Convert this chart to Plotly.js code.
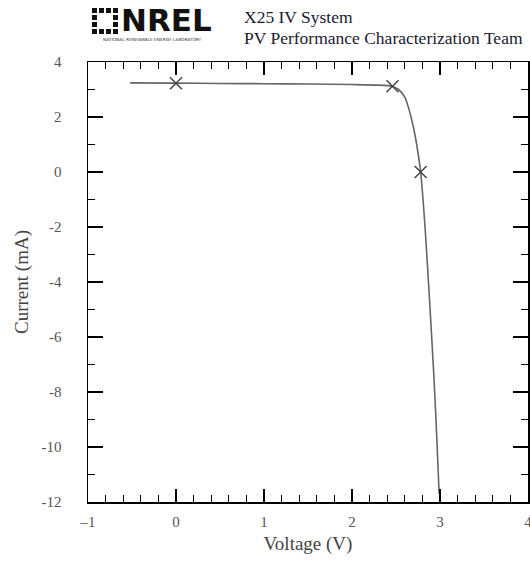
<!DOCTYPE html>
<html><head><meta charset="utf-8">
<script src="https://cdn.plot.ly/plotly-3.0.1.min.js"></script>
<style>html,body{margin:0;padding:0;background:#fff}#chart{width:530px;height:563px}</style>
</head><body><div id="chart"></div>
<script>
// I-V curve (voltage in V, current in mA)
const curveVoltage = [-0.52, 0.0, 0.5, 1.0, 1.5, 2.0, 2.3, 2.45, 2.53, 2.6, 2.65, 2.7, 2.74, 2.78, 2.83, 2.88, 2.93, 2.96, 2.99];
const curveCurrent = [3.24, 3.23, 3.22, 3.21, 3.2, 3.18, 3.16, 3.12, 3.0, 2.72, 2.25, 1.6, 0.9, 0.0, -2.0, -4.6, -7.4, -9.4, -11.7];
// Key points: Isc, max power point, Voc
const markerVoltage = [0.0, 2.46, 2.78];
const markerCurrent = [3.23, 3.12, 0.0];
const xTickVals = [-1, 0, 1, 2, 3, 4];
const xTickText = ['\u20131', '0', '1', '2', '3', '4'];
const yTickVals = [4, 2, 0, -2, -4, -6, -8, -10, -12];
const yTickText = ['4', '2', '0', '-2', '-4', '-6', '-8', '-10', '-12'];

const W = 530, H = 563, ML = 88, MR = 2, MT = 62, MB = 61;
const PW = W - ML - MR, PH = H - MT - MB;
function px(x){ return (x - ML) / PW; }
function py(y){ return (H - MB - y) / PH; }

const serif = 'Liberation Serif, Times New Roman, serif';
const sans = 'DejaVu Sans, Arial, sans-serif';
const traces = [
  {x: curveVoltage, y: curveCurrent, mode: 'lines', line: {color: '#666', width: 1.6, shape: 'spline', smoothing: 0.6}, hoverinfo: 'skip', showlegend: false},
  {x: markerVoltage, y: markerCurrent, mode: 'markers', marker: {symbol: 'x-thin-open', size: 12, color: '#444', line: {color: '#444', width: 1.5}}, showlegend: false}
];
const axisCommon = {
  showline: true, linecolor: '#000', linewidth: 1.5, mirror: 'ticks',
  ticks: 'inside', tickcolor: '#000', tickwidth: 1.5,
  showgrid: false, zeroline: false, ticklabeloverflow: 'allow',
  tickfont: {family: serif, size: 15, color: '#555'}
};
const layout = {
  width: W, height: H,
  margin: {l: ML, r: MR, t: MT, b: MB},
  paper_bgcolor: '#fff', plot_bgcolor: '#fff',
  xaxis: Object.assign({}, axisCommon, {
    range: [-1, 4], tickmode: 'array', tickvals: xTickVals, ticktext: xTickText, ticklen: 13,
    minor: {dtick: 0.2, ticks: 'inside', ticklen: 7, tickcolor: '#000', tickwidth: 1.3, showgrid: false},
    ticklabelstandoff: 5,
    title: {text: 'Voltage (V)', font: {family: serif, size: 19, color: '#444'}, standoff: 8}
  }),
  yaxis: Object.assign({}, axisCommon, {
    range: [-12, 4], tickmode: 'array', tickvals: yTickVals, ticktext: yTickText, ticklen: 15,
    minor: {dtick: 1, ticks: 'inside', ticklen: 7, tickcolor: '#000', tickwidth: 1.3, showgrid: false},
    ticklabelstandoff: 22,
    title: {text: 'Current (mA)', font: {family: serif, size: 19, color: '#444'}, standoff: 8}
  }),
  annotations: [
    {xref: 'paper', yref: 'paper', x: px(119), y: py(20), xanchor: 'left', yanchor: 'middle', text: '<b>NREL</b>', showarrow: false, font: {family: sans, size: 31, color: '#111'}},
    {xref: 'paper', yref: 'paper', x: px(152), y: py(39), xanchor: 'center', yanchor: 'middle', text: 'NATIONAL RENEWABLE ENERGY LABORATORY', showarrow: false, font: {family: sans, size: 4.3, color: '#333'}},
    {xref: 'paper', yref: 'paper', x: px(242), y: py(17), xanchor: 'left', yanchor: 'middle', text: 'X25 IV System', showarrow: false, font: {family: serif, size: 17.5, color: '#1a1a30'}},
    {xref: 'paper', yref: 'paper', x: px(242), y: py(38), xanchor: 'left', yanchor: 'middle', text: 'PV Performance Characterization Team', showarrow: false, font: {family: serif, size: 17.5, color: '#1a1a30'}}
  ],
  shapes: []
};
// NREL logo icon: ring of small squares (decorative)
for (let i = 0; i < 4; i++) {
  for (let j = 0; j < 4; j++) {
    if (i > 0 && i < 3 && j > 0 && j < 3) continue;
    const x0 = 92 + i * 7, y0 = 8 + j * 7;
    layout.shapes.push({type: 'rect', xref: 'paper', yref: 'paper',
      x0: px(x0), x1: px(x0 + 5), y0: py(y0 + 5), y1: py(y0),
      fillcolor: '#111', line: {width: 0}});
  }
}
Plotly.newPlot('chart', traces, layout, {displayModeBar: false, staticPlot: true});
</script></body></html>
